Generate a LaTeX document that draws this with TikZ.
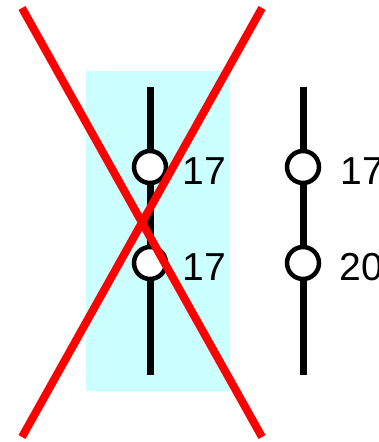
\documentclass[tikz,border=0pt]{standalone}
\usepackage{fontspec}
\setmainfont{Liberation Sans}
\usepackage{tikz}
\usepackage{xcolor}
\usetikzlibrary{positioning}
\definecolor{PaleCyan}{HTML}{CCFFFF}
\definecolor{CrossRed}{HTML}{FF0000}

\begin{document}
\begin{tikzpicture}[x=1pt, y=-1pt,
    pin/.style={circle, draw=black, fill=white, line width=4.5pt, minimum size=32pt, inner sep=0pt},
    wire/.style={line width=7pt, black},
    num/.style={inner sep=0pt, font=\fontsize{39}{39}\selectfont}]
        \useasboundingbox (0,0) rectangle (379,442);

        % Highlighted column
        \fill[PaleCyan] (86,71) rectangle (230,391);

        % Left column
        \coordinate (ltop) at (150,87);
        \coordinate (lbot) at (150,375);
        \node[pin] (l1) at (150,167) {};
        \node[pin] (l2) at (150,263) {};
        \draw[wire] (ltop) -- (l1);
        \draw[wire] (l1) -- (l2);
        \draw[wire] (l2) -- (lbot);
        \node[num, right=14pt of l1, yshift=-4pt] (l1n) {17};
        \node[num, right=14pt of l2, yshift=-4pt] (l2n) {17};

        % Right column
        \coordinate (rtop) at (303,87);
        \coordinate (rbot) at (303,375);
        \node[pin] (r1) at (303,167) {};
        \node[pin] (r2) at (303,263) {};
        \draw[wire] (rtop) -- (r1);
        \draw[wire] (r1) -- (r2);
        \draw[wire] (r2) -- (rbot);
        \node[num, right=19pt of r1, yshift=-4pt] (r1n) {17};
        \node[num, right=18pt of r2, yshift=-4pt] (r2n) {20};

        % Cross over the left column
        \coordinate (xa) at (22,8);
        \coordinate (xb) at (262,437);
        \coordinate (xc) at (262,8);
        \coordinate (xd) at (22,437);
        \draw[CrossRed, line width=8pt] (xa) -- (xb);
        \draw[CrossRed, line width=8pt] (xc) -- (xd);
    \end{tikzpicture}
\end{document}
